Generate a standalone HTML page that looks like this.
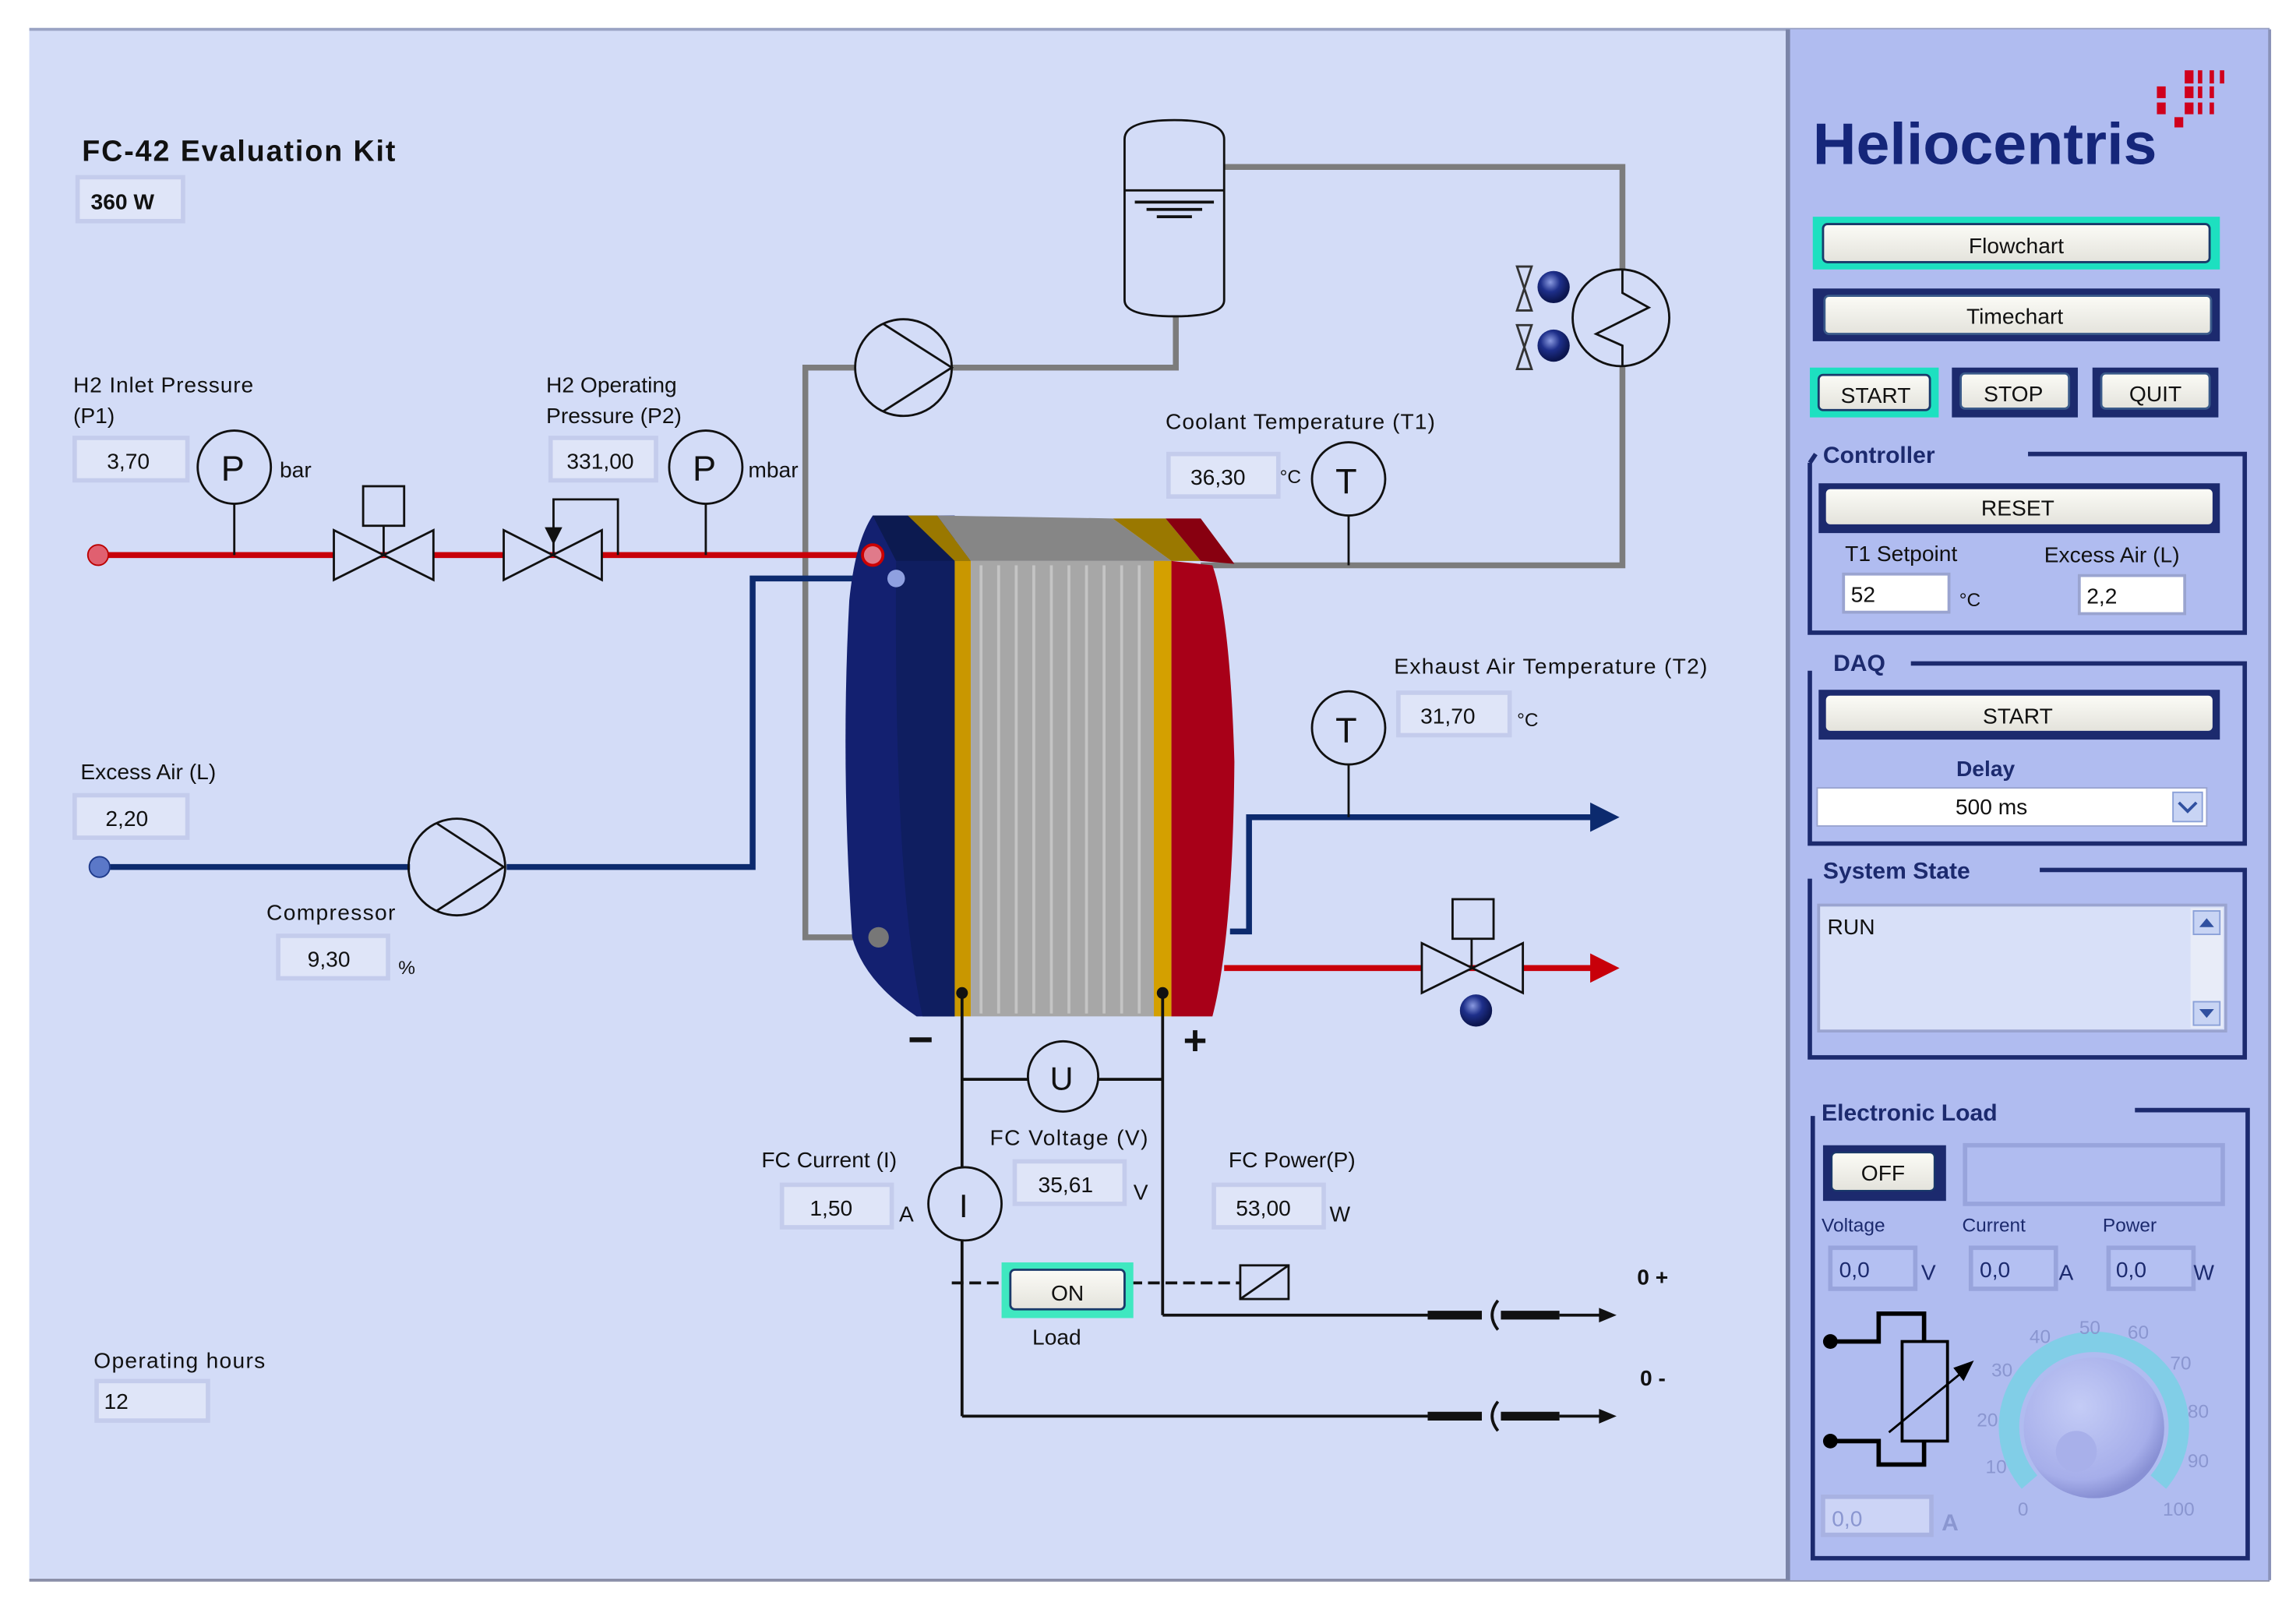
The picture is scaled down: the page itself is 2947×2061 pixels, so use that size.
<!DOCTYPE html>
<html><head><meta charset="utf-8"><style>
html,body{margin:0;padding:0;background:#fff;}
svg{display:block;}
text{font-family:"Liberation Sans",sans-serif;}
</style></head><body>
<svg width="2947" height="2061" viewBox="0 0 1568 1096.6" preserveAspectRatio="none" xmlns="http://www.w3.org/2000/svg">
<defs>
<radialGradient id="ball" cx="0.4" cy="0.35" r="0.6"><stop offset="0" stop-color="#8a9ae0"/><stop offset="0.5" stop-color="#1e2f8a"/><stop offset="1" stop-color="#0c1650"/></radialGradient>
<radialGradient id="knob" cx="0.4" cy="0.35" r="0.65"><stop offset="0" stop-color="#c4ccf6"/><stop offset="0.8" stop-color="#a6aeea"/><stop offset="1" stop-color="#8890d4"/></radialGradient>
<linearGradient id="btn" x1="0" y1="0" x2="0" y2="1"><stop offset="0" stop-color="#fbfbf6"/><stop offset="1" stop-color="#e4e3dc"/></linearGradient>
</defs>
<rect width="1568" height="1096.6" fill="#fff"/>
<rect x="20" y="20" width="1200" height="1059" fill="#d3dcf7"/>
<line x1="20" y1="20" x2="1550" y2="20" stroke="#9aa3c4" stroke-width="2"/>
<line x1="20" y1="1079" x2="1550" y2="1079" stroke="#8a8fa8" stroke-width="2"/>
<rect x="1222" y="20" width="328" height="1059" fill="#b0bcf0"/>
<line x1="1221" y1="20" x2="1221" y2="1079" stroke="#7a84a8" stroke-width="3"/>
<line x1="1550" y1="20" x2="1550" y2="1079" stroke="#8a92b8" stroke-width="2"/>

<text x="56" y="110" font-size="20" font-weight="bold" fill="#111" textLength="214">FC-42 Evaluation Kit</text>
<g font-size="15" fill="#111">
<rect x="53" y="121" width="72" height="30" fill="#dfe5f8" stroke="#c4ccec" stroke-width="3"/>
<text x="62" y="143" font-weight="bold">360 W</text>

<g fill="#dfe5f8" stroke="#c4ccec" stroke-width="3">
<rect x="51" y="299" width="77" height="29"/>
<rect x="376" y="299" width="72" height="29"/>
<rect x="798" y="310" width="75" height="29"/>
<rect x="955" y="473" width="76" height="29"/>
<rect x="51" y="543" width="77" height="29"/>
<rect x="190" y="639" width="75" height="29"/>
<rect x="693" y="793" width="75" height="29"/>
<rect x="534" y="809" width="75" height="29"/>
<rect x="829" y="809" width="75" height="29"/>
<rect x="66" y="943" width="76" height="27"/>
</g>
<text x="73" y="320">3,70</text>
<text x="387" y="320">331,00</text>
<text x="813" y="331">36,30</text>
<text x="970" y="494">31,70</text>
<text x="72" y="564">2,20</text>
<text x="210" y="660">9,30</text>
<text x="709" y="814">35,61</text>
<text x="553" y="830">1,50</text>
<text x="844" y="830">53,00</text>
<text x="71" y="962">12</text>

<text x="50" y="268" textLength="123">H2 Inlet Pressure</text>
<text x="50" y="289">(P1)</text>
<text x="373" y="268">H2 Operating</text>
<text x="373" y="289">Pressure (P2)</text>
<text x="191" y="326">bar</text>
<text x="511" y="326">mbar</text>
<text x="796" y="293" textLength="184">Coolant Temperature (T1)</text>
<text x="874" y="330" font-size="13">°C</text>
<text x="952" y="460" textLength="214">Exhaust Air Temperature (T2)</text>
<text x="1036" y="496" font-size="13">°C</text>
<text x="55" y="532">Excess Air (L)</text>
<text x="182" y="628" textLength="88">Compressor</text>
<text x="272" y="665" font-size="13">%</text>
<text x="676" y="782" textLength="108">FC Voltage (V)</text>
<text x="774" y="819">V</text>
<text x="520" y="797">FC Current (I)</text>
<text x="614" y="834">A</text>
<text x="839" y="797">FC Power(P)</text>
<text x="908" y="834">W</text>
<text x="705" y="918">Load</text>
<text x="64" y="934" textLength="117">Operating hours</text>
<text x="1118" y="877" font-weight="bold" font-family="Liberation Serif">0 +</text>
<text x="1120" y="946" font-weight="bold" font-family="Liberation Serif">0 -</text>
</g>

<g stroke="#7c7c7c" stroke-width="4" fill="none">
<polyline points="600,640 550,640 550,251 584,251"/>
<polyline points="650,251 803,251 803,216"/>
<polyline points="836,114 1108,114 1108,184"/>
<polyline points="1108,250 1108,386 820,386"/>
</g>
<path d="M768,95 Q768,82 802,82 Q836,82 836,95 L836,205 Q836,216 802,216 Q768,216 768,205Z" fill="#d3dcf7" stroke="#111" stroke-width="1.5"/>
<line x1="768" y1="130" x2="836" y2="130" stroke="#111" stroke-width="1.5"/>
<line x1="775" y1="138" x2="829" y2="138" stroke="#111" stroke-width="2"/>
<line x1="783" y1="143" x2="821" y2="143" stroke="#111" stroke-width="2"/>
<line x1="790" y1="148" x2="814" y2="148" stroke="#111" stroke-width="2"/>
<circle cx="617" cy="251" r="33" fill="none" stroke="#111" stroke-width="1.5"/>
<polyline points="603,221 650,251 603,281" fill="none" stroke="#111" stroke-width="1.5"/>
<circle cx="1107" cy="217" r="33" fill="none" stroke="#111" stroke-width="1.5"/>
<polyline points="1108,184 1108,200 1126,210 1090,228 1108,236 1108,250" fill="none" stroke="#111" stroke-width="1.5"/>
<g stroke="#333" fill="none" stroke-width="1.5">
<path d="M1036,182 L1046,182 L1036,212 L1046,212Z"/>
<path d="M1036,222 L1046,222 L1036,252 L1046,252Z"/>
</g>
<circle cx="1061" cy="196" r="11" fill="url(#ball)"/>
<circle cx="1061" cy="236" r="11" fill="url(#ball)"/>

<line x1="67" y1="379" x2="596" y2="379" stroke="#c8000a" stroke-width="4"/>
<circle cx="67" cy="379" r="7" fill="#e06070" stroke="#b00" stroke-width="1"/>
<g stroke="#111" stroke-width="1.5" fill="#d3dcf7">
<line x1="160" y1="344" x2="160" y2="379"/>
<circle cx="160" cy="319" r="25"/>
<line x1="482" y1="344" x2="482" y2="379"/>
<circle cx="482" cy="319" r="25"/>
<path d="M228,362 L296,396 L296,362 L228,396Z"/>
<line x1="262" y1="359" x2="262" y2="379"/>
<rect x="248" y="332" width="28" height="27"/>
<path d="M344,362 L411,396 L411,362 L344,396Z"/>
<polyline points="378,379 378,341 422,341 422,379" fill="none"/>
</g>
<path d="M372,360 L384,360 L378,372Z" fill="#111"/>
<text x="151" y="328" font-size="24" fill="#111">P</text>
<text x="473" y="328" font-size="24" fill="#111">P</text>

<polyline points="68,592 280,592" stroke="#0c2a6e" stroke-width="4" fill="none"/>
<polyline points="346,592 514,592 514,395 612,395" stroke="#0c2a6e" stroke-width="4" fill="none"/>
<circle cx="68" cy="592" r="7" fill="#5b78c8" stroke="#1e3a8a"/>
<circle cx="312" cy="592" r="33" fill="none" stroke="#111" stroke-width="1.5"/>
<polyline points="298,562 344,592 298,622" fill="none" stroke="#111" stroke-width="1.5"/>

<path d="M596,352 L652,352 L652,694 L626,694 Q590,670 582,640 Q574,520 580,410 Q584,370 596,352Z" fill="#132070"/>
<path d="M596,352 L640,352 L663,383 L612,383Z" fill="#0c1a50"/>
<path d="M612,383 L652,383 L652,694 L630,694 Q610,600 612,383Z" fill="#0f1e60"/>
<path d="M620,352 L640,352 L663,383 L652,383Z" fill="#9a7800"/>
<path d="M640,352 L760,354 L800,383 L663,383Z" fill="#868686"/>
<path d="M760,354 L796,354 L820,383 L800,383Z" fill="#9a7800"/>
<path d="M796,354 L820,354 L843,385 L820,383Z" fill="#880010"/>
<rect x="652" y="383" width="11" height="311" fill="#c99700"/>
<rect x="663" y="383" width="125" height="311" fill="#a7a7a7"/>
<g stroke="#c4c4c4" stroke-width="2">
<line x1="670" y1="386" x2="670" y2="692"/><line x1="682" y1="386" x2="682" y2="692"/><line x1="694" y1="386" x2="694" y2="692"/><line x1="706" y1="386" x2="706" y2="692"/><line x1="718" y1="386" x2="718" y2="692"/><line x1="730" y1="386" x2="730" y2="692"/><line x1="742" y1="386" x2="742" y2="692"/><line x1="754" y1="386" x2="754" y2="692"/><line x1="766" y1="386" x2="766" y2="692"/><line x1="778" y1="386" x2="778" y2="692"/>
</g>
<rect x="788" y="383" width="12" height="311" fill="#d4a000"/>
<path d="M800,383 L828,386 Q840,420 843,520 Q842,640 828,694 L800,694Z" fill="#a80018"/>
<circle cx="596" cy="379" r="7" fill="#e07a8a" stroke="#c00" stroke-width="2"/>
<circle cx="612" cy="395" r="6" fill="#8fa0e0"/>
<circle cx="600" cy="640" r="7" fill="#777"/>

<line x1="921" y1="352" x2="921" y2="386" stroke="#111" stroke-width="1.5"/>
<circle cx="921" cy="327" r="25" fill="#d3dcf7" stroke="#111" stroke-width="1.5"/>
<text x="912" y="337" font-size="24" fill="#111">T</text>

<polyline points="840,636 853,636 853,558 1092,558" stroke="#0c2a6e" stroke-width="4" fill="none"/>
<path d="M1086,548 L1106,558 L1086,568Z" fill="#0c2a6e"/>
<line x1="921" y1="522" x2="921" y2="558" stroke="#111" stroke-width="1.5"/>
<circle cx="921" cy="497" r="25" fill="#d3dcf7" stroke="#111" stroke-width="1.5"/>
<text x="912" y="507" font-size="24" fill="#111">T</text>
<line x1="836" y1="661" x2="1092" y2="661" stroke="#c8000a" stroke-width="4"/>
<path d="M1086,651 L1106,661 L1086,671Z" fill="#c8000a"/>
<g stroke="#111" stroke-width="1.5" fill="#d3dcf7">
<path d="M971,644 L1040,678 L1040,644 L971,678Z"/>
<line x1="1005" y1="641" x2="1005" y2="661"/>
<rect x="992" y="614" width="28" height="27"/>
</g>
<circle cx="1008" cy="690" r="11" fill="url(#ball)"/>

<text x="620" y="720" font-size="30" font-weight="bold" fill="#111">−</text>
<text x="808" y="720" font-size="28" font-weight="bold" fill="#111">+</text>
<g stroke="#111" stroke-width="2" fill="none">
<line x1="657" y1="678" x2="657" y2="797"/>
<line x1="657" y1="847" x2="657" y2="967"/>
<line x1="794" y1="678" x2="794" y2="898"/>
<line x1="657" y1="737" x2="702" y2="737"/>
<line x1="750" y1="737" x2="794" y2="737"/>
<line x1="657" y1="967" x2="975" y2="967"/>
<line x1="794" y1="898" x2="975" y2="898"/>
<line x1="1065" y1="898" x2="1095" y2="898"/>
<line x1="1065" y1="967" x2="1095" y2="967"/>
<line x1="650" y1="876" x2="686" y2="876" stroke-dasharray="8,4"/>
<line x1="772" y1="876" x2="847" y2="876" stroke-dasharray="8,4"/>
<path d="M1023,888 Q1015,898 1023,908"/>
<path d="M1023,957 Q1015,967 1023,977"/>
</g>
<g stroke="#111" stroke-width="6">
<line x1="975" y1="898" x2="1012" y2="898"/><line x1="1025" y1="898" x2="1065" y2="898"/>
<line x1="975" y1="967" x2="1012" y2="967"/><line x1="1025" y1="967" x2="1065" y2="967"/>
</g>
<path d="M1092,893 L1104,898 L1092,903Z M1092,962 L1104,967 L1092,972Z" fill="#111"/>
<circle cx="657" cy="678" r="4" fill="#111"/><circle cx="794" cy="678" r="4" fill="#111"/>
<circle cx="726" cy="735" r="24" fill="#d3dcf7" stroke="#111" stroke-width="1.5"/>
<text x="717" y="744" font-size="22" fill="#111">U</text>
<circle cx="659" cy="822" r="25" fill="#d3dcf7" stroke="#111" stroke-width="1.5"/>
<text x="655" y="831" font-size="22" fill="#111">I</text>
<rect x="847" y="864" width="33" height="23" fill="none" stroke="#111" stroke-width="1.5"/>
<line x1="847" y1="887" x2="880" y2="864" stroke="#111" stroke-width="1.5"/>
<rect x="684" y="862" width="90" height="38" fill="#3fe8c0"/>
<rect x="690" y="867" width="78" height="27" rx="3" fill="url(#btn)" stroke="#1a3a6a" stroke-width="1.5"/>
<text x="729" y="888" font-size="15" text-anchor="middle" fill="#111">ON</text>

<text x="1238" y="112" font-size="40" font-weight="bold" fill="#15267a" textLength="235" lengthAdjust="spacingAndGlyphs">Heliocentris</text>
<g fill="#d0001c">
<rect x="1492" y="48" width="6" height="9"/><rect x="1501" y="48" width="3" height="9"/><rect x="1509" y="48" width="3" height="9"/><rect x="1516" y="48" width="3" height="9"/>
<rect x="1473" y="59" width="6" height="8"/><rect x="1492" y="59" width="6" height="8"/><rect x="1501" y="59" width="3" height="8"/><rect x="1509" y="59" width="3" height="8"/>
<rect x="1473" y="70" width="6" height="8"/><rect x="1492" y="70" width="6" height="8"/><rect x="1501" y="70" width="3" height="8"/><rect x="1509" y="70" width="3" height="8"/>
<rect x="1485" y="80" width="6" height="7"/></g>

<g font-size="15" fill="#111" text-anchor="middle">
<rect x="1238" y="148" width="278" height="36" fill="#1de0c0"/>
<rect x="1245" y="153" width="264" height="26" rx="3" fill="url(#btn)" stroke="#1a3a6a" stroke-width="1.5"/>
<text x="1377" y="173">Flowchart</text>
<rect x="1238" y="197" width="278" height="36" fill="#1c2a6e"/>
<rect x="1246" y="202" width="264" height="26" rx="3" fill="url(#btn)" stroke="#3a5a8a" stroke-width="1.5"/>
<text x="1376" y="221">Timechart</text>
<rect x="1236" y="251" width="88" height="34" fill="#1de0c0"/>
<rect x="1242" y="256" width="76" height="24" rx="3" fill="url(#btn)" stroke="#1a3a6a" stroke-width="1.5"/>
<text x="1281" y="275">START</text>
<rect x="1333" y="251" width="86" height="34" fill="#1c2a6e"/>
<rect x="1339" y="255" width="74" height="24" rx="3" fill="url(#btn)" stroke="#3a5a8a" stroke-width="1.5"/>
<text x="1375" y="274">STOP</text>
<rect x="1429" y="251" width="86" height="34" fill="#1c2a6e"/>
<rect x="1435" y="255" width="74" height="24" rx="3" fill="url(#btn)" stroke="#3a5a8a" stroke-width="1.5"/>
<text x="1472" y="274">QUIT</text>
</g>

<g fill="none" stroke="#1c2a6e" stroke-width="3">
<path d="M1236,316 L1236,432 L1533,432 L1533,310 L1385,310"/>
<path d="M1236,316 L1240,310"/>
<path d="M1236,458 L1236,576 L1533,576 L1533,453 L1305,453"/>
<path d="M1236,600 L1236,722 L1533,722 L1533,594 L1393,594"/>
<path d="M1238,762 L1238,1064 L1535,1064 L1535,758 L1458,758"/>
</g>
<g font-size="16" font-weight="bold" fill="#1c2a6e">
<text x="1245" y="316">Controller</text>
<text x="1252" y="458">DAQ</text>
<text x="1245" y="600">System State</text>
<text x="1244" y="765">Electronic Load</text>
<text x="1336" y="530" font-size="15">Delay</text>
</g>
<g font-size="15" fill="#111" text-anchor="middle">
<rect x="1242" y="330" width="274" height="34" fill="#1c2a6e"/>
<rect x="1247" y="334" width="264" height="24" rx="3" fill="url(#btn)"/>
<text x="1378" y="352">RESET</text>
<rect x="1242" y="471" width="274" height="34" fill="#1c2a6e"/>
<rect x="1247" y="475" width="264" height="24" rx="3" fill="url(#btn)"/>
<text x="1378" y="494">START</text>
</g>
<g font-size="15" fill="#111">
<text x="1260" y="383">T1 Setpoint</text>
<text x="1396" y="384">Excess Air (L)</text>
<rect x="1259" y="392" width="72" height="26" fill="#fff" stroke="#9aa4d0" stroke-width="2"/>
<text x="1264" y="411">52</text>
<text x="1338" y="414" font-size="13">°C</text>
<rect x="1420" y="393" width="72" height="26" fill="#fff" stroke="#9aa4d0" stroke-width="2"/>
<text x="1425" y="412">2,2</text>
<rect x="1241" y="538" width="266" height="26" fill="#fff" stroke="#9aa4d0"/>
<text x="1360" y="556" text-anchor="middle">500 ms</text>
<rect x="1484" y="541" width="20" height="20" fill="#c8d4f4" stroke="#8aa0d8"/>
<path d="M1488,548 L1494,554 L1500,548" fill="none" stroke="#3050a0" stroke-width="2"/>
<rect x="1242" y="618" width="278" height="86" fill="#d8e0f8" stroke="#9aa4d0" stroke-width="2"/>
<text x="1248" y="638">RUN</text>
<rect x="1496" y="620" width="22" height="82" fill="#e8ecf8"/>
<rect x="1498" y="622" width="18" height="16" fill="#c8d4f4" stroke="#8aa0d8"/>
<rect x="1498" y="684" width="18" height="16" fill="#c8d4f4" stroke="#8aa0d8"/>
<path d="M1502,633 L1507,627 L1512,633Z M1502,689 L1507,695 L1512,689Z" fill="#3050a0"/>
</g>

<rect x="1245" y="782" width="84" height="38" fill="#1c2a6e"/>
<rect x="1251" y="787" width="70" height="26" rx="3" fill="url(#btn)" stroke="#1a3a6a"/>
<text x="1286" y="806" font-size="15" text-anchor="middle" fill="#111">OFF</text>
<rect x="1342" y="782" width="176" height="40" fill="#b0bcf0" stroke="#98a4dc" stroke-width="3"/>
<g font-size="13" fill="#1c2a6e">
<text x="1244" y="841">Voltage</text><text x="1340" y="841">Current</text><text x="1436" y="841">Power</text>
</g>
<g fill="#b4c0f2" stroke="#98a4dc" stroke-width="3">
<rect x="1250" y="852" width="58" height="28"/><rect x="1346" y="852" width="58" height="28"/><rect x="1440" y="852" width="58" height="28"/>
</g>
<g font-size="15" fill="#1c2a6e">
<text x="1256" y="872">0,0</text><text x="1352" y="872">0,0</text><text x="1445" y="872">0,0</text>
<text x="1312" y="874">V</text><text x="1406" y="874">A</text><text x="1498" y="874">W</text>
</g>
<rect x="1245" y="1022" width="74" height="26" fill="#ccd4f6" stroke="#a8b2e2" stroke-width="3"/>
<text x="1251" y="1042" font-size="15" fill="#8a96d0">0,0</text>
<text x="1326" y="1045" font-size="16" font-weight="bold" fill="#8a96d0">A</text>
<g stroke="#000" stroke-width="3" fill="none">
<polyline points="1250,916 1283,916 1283,897 1314,897 1314,916"/>
<polyline points="1250,984 1283,984 1283,1000 1314,1000 1314,984"/>
</g>
<circle cx="1250" cy="916" r="5" fill="#000"/><circle cx="1250" cy="984" r="5" fill="#000"/>
<rect x="1299" y="916" width="31" height="68" fill="none" stroke="#000" stroke-width="2"/>
<line x1="1290" y1="978" x2="1340" y2="937" stroke="#000" stroke-width="1.5"/>
<path d="M1348,929 L1334,934 L1341,943Z" fill="#000"/>
<path d="M1386,1012 A58,58 0 1 1 1474,1012" fill="none" stroke="#7ccfe6" stroke-width="14" opacity="0.9"/>
<circle cx="1430" cy="975" r="48" fill="url(#knob)"/>
<circle cx="1418" cy="991" r="14" fill="#a8b0ea"/>
<g font-size="13" fill="#8a96d0">
<text x="1378" y="1035">0</text><text x="1356" y="1006">10</text><text x="1350" y="974">20</text><text x="1360" y="940">30</text><text x="1386" y="917">40</text><text x="1420" y="911">50</text><text x="1453" y="914">60</text><text x="1482" y="935">70</text><text x="1494" y="968">80</text><text x="1494" y="1002">90</text><text x="1477" y="1035">100</text>
</g>
</svg>
</body></html>
